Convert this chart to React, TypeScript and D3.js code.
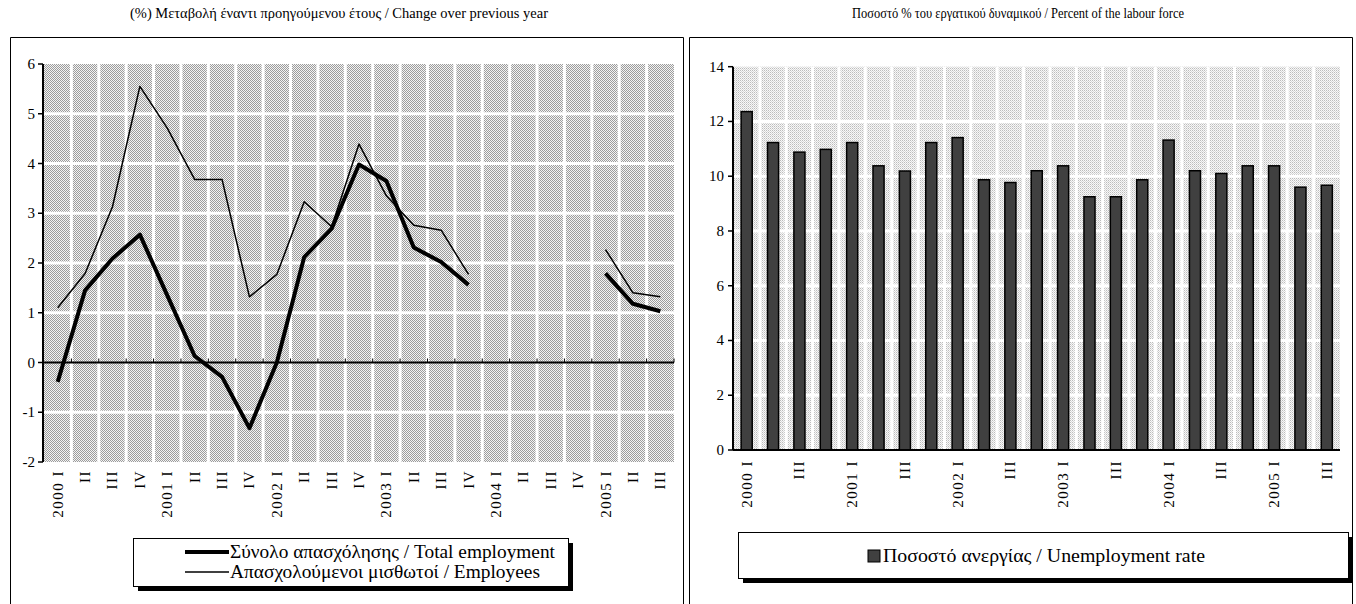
import React from "react";
import * as d3 from "d3";

const quarters = ["2000 I","II","III","IV","2001 I","II","III","IV","2002 I","II","III","IV","2003 I","II","III","IV","2004 I","II","III","IV","2005 I","II","III"];
const totalEmployment: (number | null)[] = [-0.39,1.45,2.09,2.57,1.35,0.13,-0.29,-1.32,0.0,2.12,2.69,3.98,3.65,2.31,2.02,1.56,null,null,null,null,1.79,1.18,1.03];
const employees: (number | null)[] = [1.10,1.79,3.13,5.55,4.71,3.68,3.68,1.32,1.77,3.23,2.73,4.39,3.35,2.76,2.66,1.77,null,null,null,null,2.27,1.40,1.32];
const unemployment: number[] = [12.36,11.23,10.88,10.98,11.23,10.38,10.19,11.23,11.41,9.87,9.77,10.2,10.38,9.25,9.25,9.87,11.32,10.2,10.1,10.38,10.38,9.6,9.67];
const leftTicks = [-2,-1,0,1,2,3,4,5,6];
const rightTicks = [0,2,4,6,8,10,12,14];
const rightLabelIdx = [0,2,4,6,8,10,12,14,16,18,20,22];

const leftTitle = "(%) Μεταβολή έναντι προηγούμενου έτους / Change over previous year";
const rightTitle = "Ποσοστό % του εργατικού δυναμικού / Percent of the labour force";
const legTotal = "Σύνολο απασχόλησης / Total employment";
const legEmp = "Απασχολούμενοι μισθωτοί / Employees";
const legUnemp = "Ποσοστό ανεργίας / Unemployment rate";

const FONT = '"Liberation Serif", "DejaVu Serif", serif';
const tStyle = { fontFamily: FONT } as React.CSSProperties;
const lblStyle = { fontFamily: FONT, letterSpacing: "1.5px" } as React.CSSProperties;

export default function App() {
  const lx0 = 44, lx1 = 674;
  const ly = d3.scaleLinear().domain([-2, 6]).range([462, 64]);
  const lx = d3.scalePoint<string>().domain(quarters.map((_, i) => String(i))).range([lx0, lx1]).padding(0.5);
  const lstep = lx.step();

  const rx0 = 733.5, rx1 = 1340;
  const ry = d3.scaleLinear().domain([0, 14]).range([450, 66.7]);
  const rx = d3.scaleBand<string>().domain(quarters.map((_, i) => String(i))).range([rx0, rx1]).paddingInner(0.58).paddingOuter(0.29);
  const rstep = (rx1 - rx0) / quarters.length;

  const line = d3.line<number | null>()
    .defined((d) => d != null)
    .x((_, i) => lx(String(i)) as number)
    .y((d) => ly(d as number));

  return (
    <svg width={1356} height={604} style={{ position: "absolute", left: 0, top: 0, background: "#fff", fontFamily: FONT }}>
      <defs>
        <pattern id="patL" width={2} height={2} patternUnits="userSpaceOnUse">
          <rect width={2} height={2} fill="#f4f4f4" />
          <rect x={0} y={0} width={1} height={1} fill="#9c9c9c" />
          <rect x={1} y={1} width={1} height={1} fill="#9c9c9c" />
        </pattern>
        <pattern id="patR" width={2} height={2} patternUnits="userSpaceOnUse">
          <rect width={2} height={2} fill="#f8f8f8" />
          <rect x={0} y={0} width={1} height={1} fill="#bcbcbc" />
          <rect x={1} y={1} width={1} height={1} fill="#d8d8d8" />
        </pattern>
      </defs>
      <rect x={0} y={0} width={1356} height={604} fill="#fff" />

      <text style={tStyle} x={130} y={18} fontSize={15} textLength={418} lengthAdjust="spacingAndGlyphs">{leftTitle}</text>
      <text style={tStyle} x={852} y={18} fontSize={14.5} textLength={332} lengthAdjust="spacingAndGlyphs">{rightTitle}</text>

      <path d="M10.5,604 V37.5 H683.5 V604" fill="none" stroke="#000" strokeWidth={1} />
      <path d="M689.5,604 V37.5 H1352.5 V604" fill="none" stroke="#000" strokeWidth={1} />

      {/* LEFT CHART */}
      <rect x={lx0} y={ly(6)} width={lx1 - lx0} height={ly(-2) - ly(6)} fill="url(#patL)" />
      {quarters.slice(1).map((_, i) => {
        const x = lx0 + (i + 1) * lstep;
        return <line key={"lv" + i} x1={x} x2={x} y1={ly(6)} y2={ly(-2)} stroke="#fff" strokeWidth={3} />;
      })}
      {leftTicks.filter((t) => t !== 0 && t !== -2 && t !== 6).map((t) => (
        <line key={"lh" + t} x1={lx0} x2={lx1} y1={ly(t)} y2={ly(t)} stroke="#fff" strokeWidth={3} />
      ))}
      <line x1={43} x2={43} y1={ly(6)} y2={ly(-2)} stroke="#000" strokeWidth={2} />
      {leftTicks.map((t) => (
        <g key={"lt" + t}>
          <line x1={38} x2={43} y1={ly(t)} y2={ly(t)} stroke="#000" strokeWidth={1.5} />
          <text style={tStyle} x={35} y={ly(t) + 5} textAnchor="end" fontSize={15}>{t}</text>
        </g>
      ))}
      <line x1={43} x2={lx1} y1={ly(0)} y2={ly(0)} stroke="#000" strokeWidth={2} />
      {quarters.map((_, i) => {
        const x = lx0 + (i + 1) * lstep;
        return <line key={"lxt" + i} x1={x} x2={x} y1={ly(0)} y2={ly(0) - 4} stroke="#000" strokeWidth={1} />;
      })}
      {quarters.map((q, i) => (
        <text style={lblStyle} key={"lxl" + i} transform={`translate(${(lx(String(i)) as number) + 5},470) rotate(-90)`} textAnchor="end" fontSize={15}>{q}</text>
      ))}
      <path d={line(employees) || ""} fill="none" stroke="#000" strokeWidth={1.5} strokeLinejoin="round" />
      <path d={line(totalEmployment) || ""} fill="none" stroke="#000" strokeWidth={4} strokeLinejoin="round" />

      {/* Left legend */}
      <rect x={138} y={543} width={435} height={48} fill="#000" />
      <rect x={133.5} y={538.5} width={435} height={48} fill="#fff" stroke="#000" strokeWidth={1} />
      <line x1={185} x2={229} y1={552} y2={552} stroke="#000" strokeWidth={4} />
      <text style={tStyle} x={230} y={558} fontSize={19} textLength={325} lengthAdjust="spacingAndGlyphs">{legTotal}</text>
      <line x1={185} x2={229} y1={572} y2={572} stroke="#000" strokeWidth={1.5} />
      <text style={tStyle} x={230} y={578} fontSize={19} textLength={310} lengthAdjust="spacingAndGlyphs">{legEmp}</text>

      {/* RIGHT CHART */}
      <rect x={rx0} y={ry(14)} width={rx1 - rx0} height={ry(0) - ry(14)} fill="url(#patR)" />
      {quarters.slice(1).map((_, i) => {
        const x = rx0 + (i + 1) * rstep;
        return <line key={"rv" + i} x1={x} x2={x} y1={ry(14)} y2={ry(0)} stroke="#fff" strokeWidth={3} />;
      })}
      {rightTicks.filter((t) => t !== 0 && t !== 14).map((t) => (
        <line key={"rh" + t} x1={rx0} x2={rx1} y1={ry(t)} y2={ry(t)} stroke="#fff" strokeWidth={3} />
      ))}
      {unemployment.map((v, i) => (
        <rect key={"bar" + i} x={rx(String(i))} y={ry(v)} width={rx.bandwidth()} height={ry(0) - ry(v)} fill="#404040" stroke="#000" strokeWidth={1.5} />
      ))}
      <line x1={733} x2={733} y1={ry(14)} y2={ry(0)} stroke="#000" strokeWidth={2} />
      {rightTicks.map((t) => (
        <g key={"rt" + t}>
          <line x1={728} x2={733} y1={ry(t)} y2={ry(t)} stroke="#000" strokeWidth={1.5} />
          <text style={tStyle} x={724} y={ry(t) + 5} textAnchor="end" fontSize={15}>{t}</text>
        </g>
      ))}
      <line x1={733} x2={rx1} y1={ry(0)} y2={ry(0)} stroke="#000" strokeWidth={2} />
      {rightLabelIdx.map((i) => (
        <text style={lblStyle} key={"rxl" + i} transform={`translate(${(rx(String(i)) as number) + rx.bandwidth() / 2 + 5},460) rotate(-90)`} textAnchor="end" fontSize={15}>{quarters[i]}</text>
      ))}

      {/* Right legend */}
      <rect x={743} y={537} width={610} height={46} fill="#000" />
      <rect x={738.5} y={532.5} width={610} height={46} fill="#fff" stroke="#000" strokeWidth={1} />
      <rect x={868} y={550} width={12} height={12} fill="#404040" stroke="#000" strokeWidth={1} />
      <text style={tStyle} x={883} y={562} fontSize={19} textLength={322} lengthAdjust="spacingAndGlyphs">{legUnemp}</text>
    </svg>
  );
}
